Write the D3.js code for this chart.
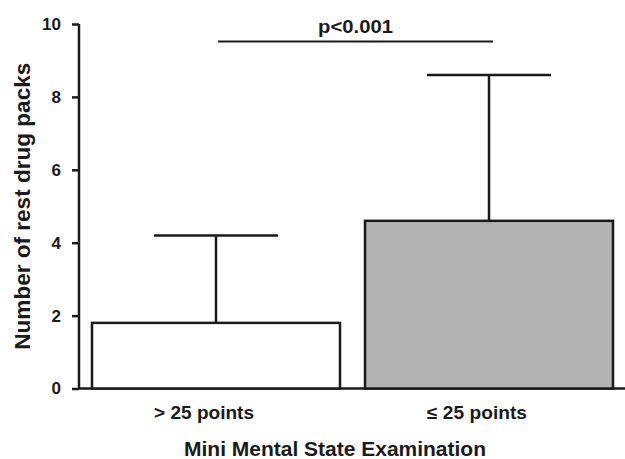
<!DOCTYPE html>
<html><head><meta charset="utf-8">
<script src="https://cdn.jsdelivr.net/npm/d3@7"></script>
<style>body{margin:0;background:#fff}svg{display:block}text{font-family:"Liberation Sans",Arial,sans-serif;font-weight:bold;fill:#1a1a1a}</style>
</head><body>
<script>
const categories = ["> 25 points", "\u2264 25 points"];
const means = [1.8, 4.6];
const errUpper = [4.2, 8.6];
const fills = ["#ffffff", "#b3b3b3"];
const yTicks = [0, 2, 4, 6, 8, 10];
const sigLabel = "p<0.001";
const yLabel = "Number of rest drug packs";
const xLabel = "Mini Mental State Examination";

const W = 625, H = 459;
const svg = d3.select("body").append("svg").attr("width", W).attr("height", H);
const ink = "#1a1a1a";

const y = d3.scaleLinear().domain([0, 10]).range([388.5, 24]);
const x = d3.scaleBand().domain(categories).range([79, 626]).paddingInner(25/273).paddingOuter(13/273);

// y axis
const yAx = svg.append("g").attr("transform", "translate(79,0)")
  .call(d3.axisLeft(y).tickValues(yTicks).tickSize(7).tickPadding(11));
yAx.select(".domain").attr("stroke", ink).attr("stroke-width", 2.5).attr("d", `M0,${y(10)}V${y(0)}`);
yAx.selectAll(".tick line").attr("stroke", ink).attr("stroke-width", 2.5);
yAx.selectAll(".tick text").style("font-size", "17px").attr("font-family", null).attr("fill", ink);

// baseline
svg.append("line").attr("x1", 79).attr("x2", 625).attr("y1", y(0)).attr("y2", y(0))
  .attr("stroke", ink).attr("stroke-width", 2.5);

// error bars (upper only)
const bw = x.bandwidth();
categories.forEach((c, i) => {
  const cx = x(c) + bw / 2;
  svg.append("line").attr("x1", cx).attr("x2", cx).attr("y1", y(means[i])).attr("y2", y(errUpper[i]))
    .attr("stroke", ink).attr("stroke-width", 2.5);
  svg.append("line").attr("x1", cx - bw / 4).attr("x2", cx + bw / 4).attr("y1", y(errUpper[i])).attr("y2", y(errUpper[i]))
    .attr("stroke", ink).attr("stroke-width", 2.5);
});

// bars
svg.selectAll("rect.bar").data(categories).enter().append("rect")
  .attr("class", "bar")
  .attr("x", c => x(c))
  .attr("width", bw)
  .attr("y", (c, i) => y(means[i]))
  .attr("height", (c, i) => y(0) - y(means[i]))
  .attr("fill", (c, i) => fills[i])
  .attr("stroke", ink).attr("stroke-width", 2.5);

// x tick labels
svg.selectAll("text.xl").data(categories).enter().append("text")
  .attr("class", "xl")
  .attr("x", c => x(c) + bw / 2 - 12).attr("y", 419)
  .attr("text-anchor", "middle").style("font-size", "18px")
  .attr("textLength", 100).attr("lengthAdjust", "spacingAndGlyphs")
  .text(c => c);

// significance bar
const sx1 = x(categories[0]) + bw / 2 + 2, sx2 = x(categories[1]) + bw / 2 + 4;
svg.append("line").attr("x1", sx1).attr("x2", sx2).attr("y1", 41.5).attr("y2", 41.5)
  .attr("stroke", ink).attr("stroke-width", 2);
svg.append("text").attr("x", (sx1 + sx2) / 2).attr("y", 33).attr("text-anchor", "middle")
  .style("font-size", "17.5px").attr("textLength", 75).attr("lengthAdjust", "spacingAndGlyphs")
  .text(sigLabel);

// axis titles
svg.append("text").attr("transform", `translate(30,${(y(0)+y(10))/2}) scale(1.15,1) rotate(-90)`)
  .attr("text-anchor", "middle").style("font-size", "19.5px")
  .attr("textLength", 287).attr("lengthAdjust", "spacingAndGlyphs").text(yLabel);
svg.append("text").attr("x", 335).attr("y", 456).attr("text-anchor", "middle")
  .style("font-size", "19.5px").attr("textLength", 302).attr("lengthAdjust", "spacingAndGlyphs")
  .text(xLabel);
</script>
</body></html>
